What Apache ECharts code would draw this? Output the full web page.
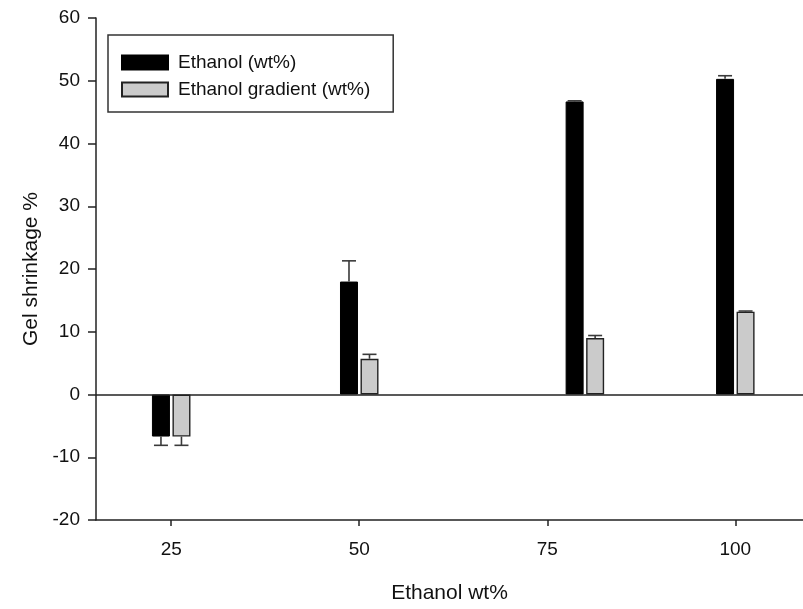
<!DOCTYPE html>
<html>
<head>
<meta charset="utf-8">
<script src="https://cdn.jsdelivr.net/npm/echarts@6/dist/echarts.min.js"></script>
<style>html,body{margin:0;padding:0;background:#fff}#c{width:803px;height:609px}</style>
</head>
<body>
<div id="c"></div>
<script>
// x positions of the bar groups (the third group is drawn at 80 in the source figure)
var groupX = [25, 50, 80, 100];
var tickLabels = [25, 50, 75, 100];
var seriesNames = ['Ethanol (wt%)', 'Ethanol gradient (wt%)'];
var ethanol = [-6.7, 18.0, 46.7, 50.3];
var ethanolErr = [1.4, 3.3, 0.1, 0.5];
var gradient = [-6.7, 5.7, 9.0, 13.2];
var gradientErr = [1.4, 0.7, 0.4, 0.1];

var FONT = 'Liberation Sans, Arial, sans-serif';
var BAR_W = 18, HALF_OFF = 10.25;

function pairs(xs, ys) { return xs.map(function (x, i) { return [x, ys[i]]; }); }

function errSeries(vals, errs, offset) {
  return {
    type: 'custom',
    silent: true,
    z: 5,
    data: groupX.map(function (x, i) { return [x, vals[i], errs[i]]; }),
    renderItem: function (params, api) {
      var x = api.value(0), v = api.value(1), e = api.value(2);
      var end = v >= 0 ? v + e : v - e;
      var p0 = api.coord([x, v]);
      var p1 = api.coord([x, end]);
      var cx = p0[0] + offset;
      var style = { stroke: '#3a3a3a', lineWidth: 1.6 };
      return {
        type: 'group',
        children: [
          { type: 'line', shape: { x1: cx, y1: p0[1], x2: cx, y2: p1[1] }, style: style },
          { type: 'line', shape: { x1: cx - 7, y1: p1[1], x2: cx + 7, y2: p1[1] }, style: style }
        ]
      };
    }
  };
}

var chart = echarts.init(document.getElementById('c'));
chart.setOption({
  animation: false,
  backgroundColor: '#fff',
  textStyle: { fontFamily: FONT },
  grid: { left: 96, right: 0, top: 18, bottom: 89, containLabel: false },
  legend: {
    orient: 'vertical',
    left: 108, top: 35,
    padding: [18, 23, 13, 13],
    borderColor: '#333', borderWidth: 1.5,
    itemWidth: 46, itemHeight: 14, itemGap: 8,
    icon: 'rect',
    textStyle: { fontFamily: FONT, fontSize: 19, color: '#111', padding: [0, 0, 0, 5] },
    data: seriesNames
  },
  xAxis: {
    type: 'value', min: 15, max: 109,
    name: 'Ethanol wt%', nameLocation: 'middle', nameGap: 63,
    nameTextStyle: { fontFamily: FONT, fontSize: 21, color: '#111' },
    axisLine: { show: true, onZero: false, lineStyle: { color: '#222', width: 1.5 } },
    axisTick: { show: true, length: 6, inside: false, customValues: tickLabels, lineStyle: { color: '#222', width: 1.5 } },
    axisLabel: { customValues: tickLabels, margin: 20, fontFamily: FONT, fontSize: 19, color: '#111' },
    splitLine: { show: false }
  },
  yAxis: {
    type: 'value', min: -20, max: 60, interval: 10,
    name: 'Gel shrinkage %', nameLocation: 'middle', nameGap: 51, nameRotate: 90,
    nameTextStyle: { fontFamily: FONT, fontSize: 21, color: '#111' },
    axisLine: { show: true, lineStyle: { color: '#222', width: 1.5 } },
    axisTick: { show: true, length: 8, lineStyle: { color: '#222', width: 1.5 } },
    axisLabel: { margin: 16, fontFamily: FONT, fontSize: 19, color: '#111' },
    splitLine: { show: false }
  },
  series: [
    {
      name: seriesNames[0], type: 'bar', barWidth: BAR_W, barGap: '14%',
      data: pairs(groupX, ethanol),
      itemStyle: { color: '#000', borderColor: '#000', borderWidth: 1 },
      markLine: {
        silent: true, symbol: 'none', label: { show: false },
        lineStyle: { color: '#222', width: 1.5, type: 'solid' },
        data: [{ yAxis: 0 }]
      }
    },
    {
      name: seriesNames[1], type: 'bar', barWidth: BAR_W,
      data: pairs(groupX, gradient),
      itemStyle: { color: '#cbcbcb', borderColor: '#222', borderWidth: 1.4 }
    },
    errSeries(ethanol, ethanolErr, -HALF_OFF),
    errSeries(gradient, gradientErr, HALF_OFF)
  ]
});
</script>
</body>
</html>
